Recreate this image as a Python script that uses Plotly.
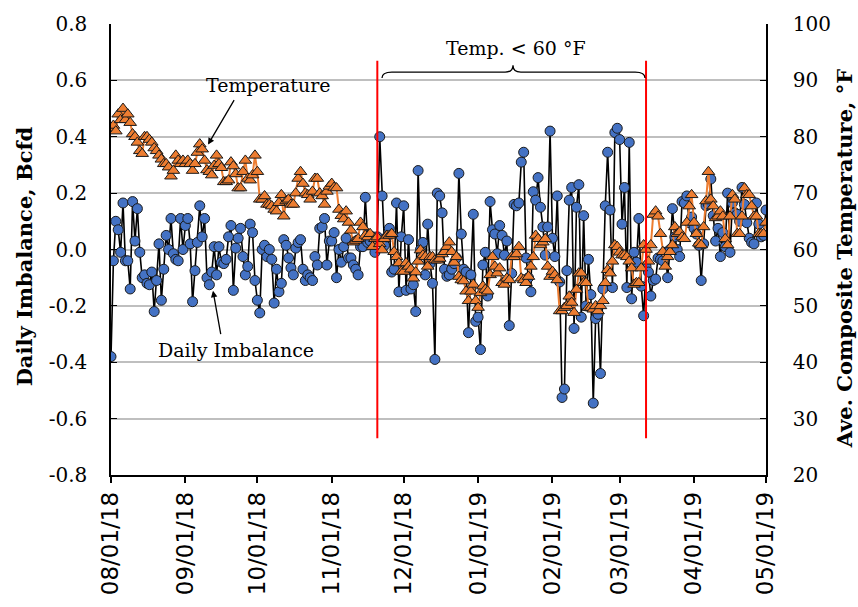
import plotly.graph_objects as go
import pandas as pd

start_date = "2018-08-01"
end_date = "2019-05-01"

imbalance = [
    -0.38, -0.04, 0.10, 0.07, -0.01, 0.165, -0.04, -0.04, -0.14, 0.17,
    0.03, 0.145, -0.01, -0.10, -0.09, -0.12, -0.125, -0.08, -0.22, -0.11,
    0.02, -0.18, -0.07, 0.05, 0.00, 0.11, -0.015, -0.035, -0.04, 0.11,
    0.00, 0.085, 0.11, 0.02, -0.185, -0.075, 0.025, 0.155, 0.045, 0.11,
    -0.10, -0.125, -0.08, 0.01, -0.09, 0.01, -0.045, -0.05, -0.035, 0.045,
    0.085, -0.145, 0.005, 0.04, 0.075, -0.025, -0.09, -0.06, 0.09, 0.06,
    -0.11, -0.18, -0.225, 0.00, 0.015, -0.025, 0.00, -0.035, -0.19, -0.07,
    -0.15, -0.12, 0.035, 0.015, -0.03, -0.065, -0.09, 0.005, 0.025, 0.035,
    -0.07, -0.11, -0.09, -0.10, -0.11, -0.025, -0.055, 0.075, 0.08, 0.11,
    -0.055, 0.03, 0.03, 0.06, -0.10, 0.00, -0.045, 0.01, 0.04, -0.03,
    -0.03, -0.055, -0.07, -0.09, 0.01, 0.01, 0.185, 0.025, 0.03, 0.045,
    -0.01, 0.045, 0.40, 0.19, 0.015, 0.045, 0.075, -0.08, -0.07, 0.165,
    -0.15, 0.045, 0.155, -0.145, 0.035, -0.14, -0.125, -0.22, 0.28, 0.00,
    0.025, -0.09, 0.09, -0.05, -0.12, -0.39, 0.20, 0.19, 0.13, -0.07,
    -0.095, -0.09, -0.07, -0.05, -0.03, 0.27, 0.055, -0.07, -0.08, -0.295,
    -0.09, 0.125, -0.255, -0.24, -0.355, -0.055, -0.01, -0.165, 0.17, 0.07,
    0.055, -0.015, 0.085, 0.05, -0.02, 0.03, -0.27, -0.085, 0.16, 0.155,
    0.165, 0.31, 0.345, -0.03, -0.10, -0.15, 0.205, 0.175, 0.255, 0.15,
    0.08, -0.02, 0.08, 0.42, 0.04, -0.025, 0.19, -0.115, -0.525, -0.495,
    -0.075, 0.175, 0.22, -0.28, 0.15, 0.23, -0.24, 0.12, -0.20, -0.035,
    -0.16, -0.545, -0.245, -0.23, -0.44, -0.14, 0.155, 0.345, 0.14, -0.135,
    0.415, 0.43, 0.39, 0.09, 0.22, -0.135, 0.38, -0.175, -0.01, -0.045,
    0.11, -0.13, -0.235, -0.06, -0.08, -0.165, -0.11, -0.105, -0.03, -0.035,
    -0.04, -0.01, -0.10, 0.00, 0.145, 0.045, 0.00, -0.025, 0.17, 0.165,
    0.19, 0.095, 0.115, 0.075, 0.055, 0.015, -0.11, 0.02, 0.155, 0.16,
    0.25, 0.12, 0.03, 0.075, -0.025, 0.06, 0.01, 0.20, -0.01, 0.165,
    0.13, 0.125, 0.10, 0.22, 0.16, 0.095, 0.04, 0.025, 0.02, 0.165,
    0.09, 0.045, 0.05, 0.14,
]

temperature = [
    81.5, 82.0, 81.0, 84.0, 83.0, 85.0, 83.0, 84.0, 82.5, 80.5,
    80.0, 79.0, 77.5, 77.0, 80.0, 80.0, 79.5, 79.0, 78.0, 77.5,
    76.7, 76.0, 75.2, 75.2, 74.6, 73.0, 74.0, 76.7, 75.8, 75.2,
    75.8, 75.2, 75.8, 75.2, 74.0, 75.2, 77.2, 78.7, 77.8, 75.8,
    74.1, 73.8, 73.2, 74.9, 76.7, 75.2, 74.5, 72.0, 72.0, 72.3,
    75.5, 74.8, 73.4, 70.9, 70.9, 73.8, 75.8, 72.6, 72.3, 73.2,
    76.7, 73.8, 68.9, 68.9, 69.5, 68.0, 68.0, 67.7, 67.1, 66.8,
    68.3, 69.7, 65.9, 68.6, 68.9, 68.0, 68.0, 70.0, 72.6, 73.8,
    71.7, 70.0, 69.7, 68.9, 70.3, 72.6, 72.6, 70.0, 69.5, 68.0,
    70.3, 71.2, 71.7, 71.0, 70.9, 67.1, 66.0, 65.4, 66.8, 64.8,
    63.4, 61.3, 61.6, 61.9, 64.8, 64.0, 62.5, 62.2, 62.8, 60.5,
    61.9, 62.2, 61.0, 59.9, 61.9, 62.5, 62.5, 62.8, 59.6, 58.7,
    57.6, 56.1, 56.1, 57.6, 57.0, 56.5, 54.9, 56.0, 57.9, 59.9,
    59.0, 58.7, 57.0, 58.7, 58.7, 58.1, 58.1, 58.4, 59.2, 59.6,
    60.5, 61.3, 59.6, 57.7, 58.7, 55.2, 54.6, 54.4, 52.6, 50.9,
    52.6, 53.8, 50.9, 49.7, 52.3, 53.5, 52.9, 52.6, 55.5, 58.7,
    57.0, 55.8, 56.7, 54.1, 53.8, 54.9, 54.6, 58.7, 58.7, 59.2,
    60.5, 54.9, 54.6, 54.1, 55.2, 57.0, 58.7, 62.5, 61.9, 60.8,
    61.3, 61.9, 57.0, 55.2, 56.1, 55.5, 54.6, 49.1, 49.1, 49.7,
    50.0, 51.7, 50.6, 48.8, 52.9, 55.8, 55.8, 54.1, 54.1, 49.7,
    49.7, 49.4, 50.0, 49.1, 50.0, 50.9, 54.1, 56.4, 55.8, 57.9,
    60.8, 60.5, 59.5, 59.0, 59.0, 58.7, 57.9, 56.7, 53.8, 54.1,
    54.1, 56.7, 60.8, 60.0, 57.9, 60.8, 66.2, 66.8, 65.9, 62.8,
    59.6, 57.0, 58.7, 59.6, 60.8, 64.0, 62.8, 63.1, 62.2, 61.9,
    64.8, 67.7, 69.7, 64.8, 62.8, 61.1, 60.8, 64.0, 68.6, 73.8,
    68.9, 67.7, 65.6, 65.9, 66.8, 65.9, 61.9, 60.8, 65.9, 69.7,
    68.9, 62.8, 62.8, 65.9, 70.9, 69.7, 69.7, 67.7, 65.9, 65.9,
    62.8, 62.8, 62.8, 64.8,
]

left_ticks = [-0.8, -0.6, -0.4, -0.2, 0.0, 0.2, 0.4, 0.6, 0.8]
left_labels = ["-0.8", "-0.6", "-0.4", "-0.2", "0.0", "0.2", "0.4", "0.6", "0.8"]
right_ticks = [20, 30, 40, 50, 60, 70, 80, 90, 100]

dates = pd.date_range(start_date, periods=len(imbalance), freq="D")
month_ticks = pd.date_range(start_date, end_date, freq="MS")
month_labels = [d.strftime("%m/%d/%y") for d in month_ticks]

cold_start = "2018-11-20"
cold_end = "2019-03-12"

SERIF = "DejaVu Serif"
W, H = 858, 607
L, R, T, B = 111, 92, 20, 127
pw, ph = W - L - R, H - T - B


def px(xp):
    return (xp - L) / pw


def py(yp):
    return (H - B - yp) / ph


fig = go.Figure()

fig.add_trace(go.Scatter(
    x=dates, y=imbalance, mode="lines+markers", name="Daily Imbalance",
    line=dict(color="black", width=1.6),
    marker=dict(symbol="circle", size=10, color="#4472C4",
                line=dict(color="#1a1a1a", width=1)),
    yaxis="y",
))
fig.add_trace(go.Scatter(
    x=dates, y=temperature, mode="lines+markers", name="Temperature",
    line=dict(color="#ED7D31", width=2),
    marker=dict(symbol="triangle-up", size=11, color="#ED7D31",
                line=dict(color="#1a1a1a", width=1)),
    yaxis="y2",
))

tickfont = dict(family=SERIF, size=20, color="black")

fig.update_layout(
    width=W, height=H,
    margin=dict(l=L, r=R, t=T, b=B),
    paper_bgcolor="white", plot_bgcolor="white",
    showlegend=False,
    xaxis=dict(
        type="date", range=[start_date, end_date],
        tickvals=month_ticks, ticktext=month_labels, tickangle=-90,
        tickfont=dict(family="DejaVu Sans", size=23, color="black"),
        showline=True, linecolor="black", linewidth=1.5,
        ticks="outside", ticklen=6, tickcolor="black", tickwidth=1.5,
        showgrid=False, zeroline=False,
    ),
    yaxis=dict(
        range=[-0.8, 0.8], tickvals=left_ticks, ticktext=left_labels,
        tickfont=tickfont,
        showline=True, linecolor="black", linewidth=1.5,
        ticks="inside", ticklen=6, tickcolor="black",
        showgrid=True, gridcolor="#bfbfbf", gridwidth=1.5,
        zeroline=False, ticklabelstandoff=18,
    ),
    yaxis2=dict(
        range=[20, 100], tickvals=right_ticks, overlaying="y", side="right",
        tickfont=tickfont,
        showline=True, linecolor="black", linewidth=1.5,
        ticks="inside", ticklen=6, tickcolor="black",
        showgrid=False, zeroline=False, ticklabelstandoff=21,
    ),
)

# red boundary lines for the cold period
for d in (cold_start, cold_end):
    fig.add_shape(type="line", xref="x", yref="y", x0=d, x1=d, y0=-0.67, y1=0.67,
                  line=dict(color="#ff0000", width=2))

# brace above cold period
bx0, bx1, bxm = px(382), px(645), px(513)
by_end, by_bar, by_tip = py(75), py(69), py(62)
brace = (f"M {bx0} {by_end} Q {bx0} {by_bar} {bx0 + 0.015} {by_bar} "
         f"L {bxm - 0.012} {by_bar} Q {bxm} {by_bar} {bxm} {by_tip} "
         f"Q {bxm} {by_bar} {bxm + 0.012} {by_bar} "
         f"L {bx1 - 0.015} {by_bar} Q {bx1} {by_bar} {bx1} {by_end}")
fig.add_shape(type="path", xref="paper", yref="paper", path=brace,
              line=dict(color="black", width=1.3))

annfont = dict(family=SERIF, size=19, color="black")


def label(x, y, text, font, angle=0):
    fig.add_annotation(xref="paper", yref="paper", x=px(x), y=py(y), text=text,
                       showarrow=False, font=font, textangle=angle,
                       xanchor="center", yanchor="middle")


label(516, 44, "Temp. &lt; 60 °F", annfont)
label(268, 82, "Temperature", annfont)
label(236, 352, "Daily Imbalance", annfont)

# arrows
fig.add_annotation(xref="paper", yref="paper", x=px(208), y=py(143), text="",
                   showarrow=True, ax=27, ay=-46, arrowhead=2, arrowsize=1,
                   arrowwidth=1.3, arrowcolor="black")
fig.add_annotation(xref="paper", yref="paper", x=px(213), y=py(292), text="",
                   showarrow=True, ax=8, ay=45, arrowhead=2, arrowsize=1,
                   arrowwidth=1.3, arrowcolor="black")

# axis titles
titlefont = dict(family=SERIF, size=21, color="black")
label(24, 257, "<b>Daily Imbalance, Bcfd</b>", titlefont, -90)
label(844, 260, "<b>Ave. Composite Temperature, °F</b>", titlefont, -90)

fig.write_html("out.html")
